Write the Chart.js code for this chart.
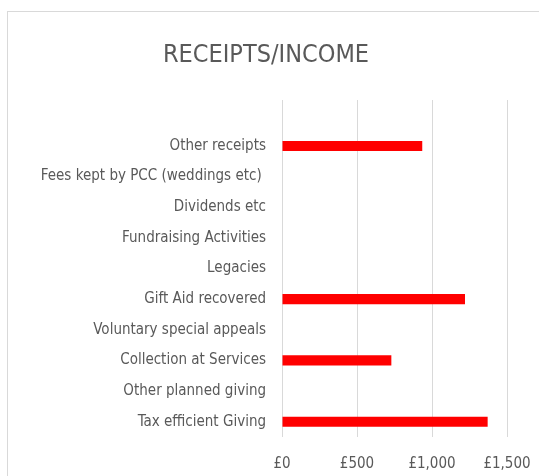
<!DOCTYPE html>
<html>
<head>
<meta charset="utf-8">
<script src="https://cdn.jsdelivr.net/npm/chart.js@4/dist/chart.umd.min.js"></script>
<style>
  html, body { margin: 0; padding: 0; background: #ffffff; overflow: hidden; }
  #frame { position: absolute; left: 7px; top: 11px; width: 600px; height: 520px; border: 1px solid #d9d9d9; box-sizing: border-box; }
  #wrap { position: absolute; left: 0; top: 0; width: 539px; height: 476px; }
</style>
</head>
<body>
<div id="frame"></div>
<div id="wrap"><canvas id="c" width="539" height="476"></canvas></div>
<script>
// Categories listed top to bottom (blank slot at top as in the original plot area)
const categories = [
  "",
  "Other receipts",
  "Fees kept by PCC (weddings etc) ",
  "Dividends etc",
  "Fundraising Activities",
  "Legacies",
  "Gift Aid recovered",
  "Voluntary special appeals",
  "Collection at Services",
  "Other planned giving",
  "Tax efficient Giving"
];
const amounts = [null, 935, 0, 0, 0, 0, 1220, 0, 729, 0, 1371];
const xTicks = [0, 500, 1000, 1500];
const chartTitle = "RECEIPTS/INCOME";

const FONT = "'Liberation Sans Narrow', 'DejaVu Sans Condensed', 'Roboto', sans-serif";
const TEXT = "#595959";

new Chart(document.getElementById("c"), {
  type: "bar",
  data: {
    labels: categories,
    datasets: [{
      data: amounts,
      backgroundColor: "#ff0000",
      borderWidth: 0,
      categoryPercentage: 1,
      barPercentage: 0.33
    }]
  },
  options: {
    indexAxis: "y",
    responsive: false,
    animation: false,
    layout: { padding: { left: 0, right: 7, top: 0, bottom: 0 } },
    plugins: {
      legend: { display: false },
      tooltip: { enabled: false },
      title: {
        display: true,
        text: chartTitle,
        color: TEXT,
        font: { family: FONT, size: 25, weight: "normal" },
        padding: { top: 40, bottom: 30 }
      }
    },
    scales: {
      x: {
        type: "linear",
        min: 0,
        max: 1500,
        afterBuildTicks: (s) => { s.ticks = xTicks.map(v => ({ value: v })); },
        afterFit: (s) => { s.height = 39; s.paddingRight = 32; s.paddingLeft = 0; },
        grid: { color: "#d9d9d9", lineWidth: 1, drawTicks: false },
        border: { display: false },
        ticks: {
          color: TEXT,
          padding: 18,
          font: { family: FONT, size: 15 },
          callback: (v) => "£" + Number(v).toLocaleString("en-GB")
        }
      },
      y: {
        afterFit: (s) => { s.width = 282; },
        grid: { display: false, drawTicks: false },
        border: { display: false },
        ticks: {
          color: TEXT,
          padding: 16,
          autoSkip: false,
          font: { family: FONT, size: 15 }
        }
      }
    }
  }
});
</script>
</body>
</html>
